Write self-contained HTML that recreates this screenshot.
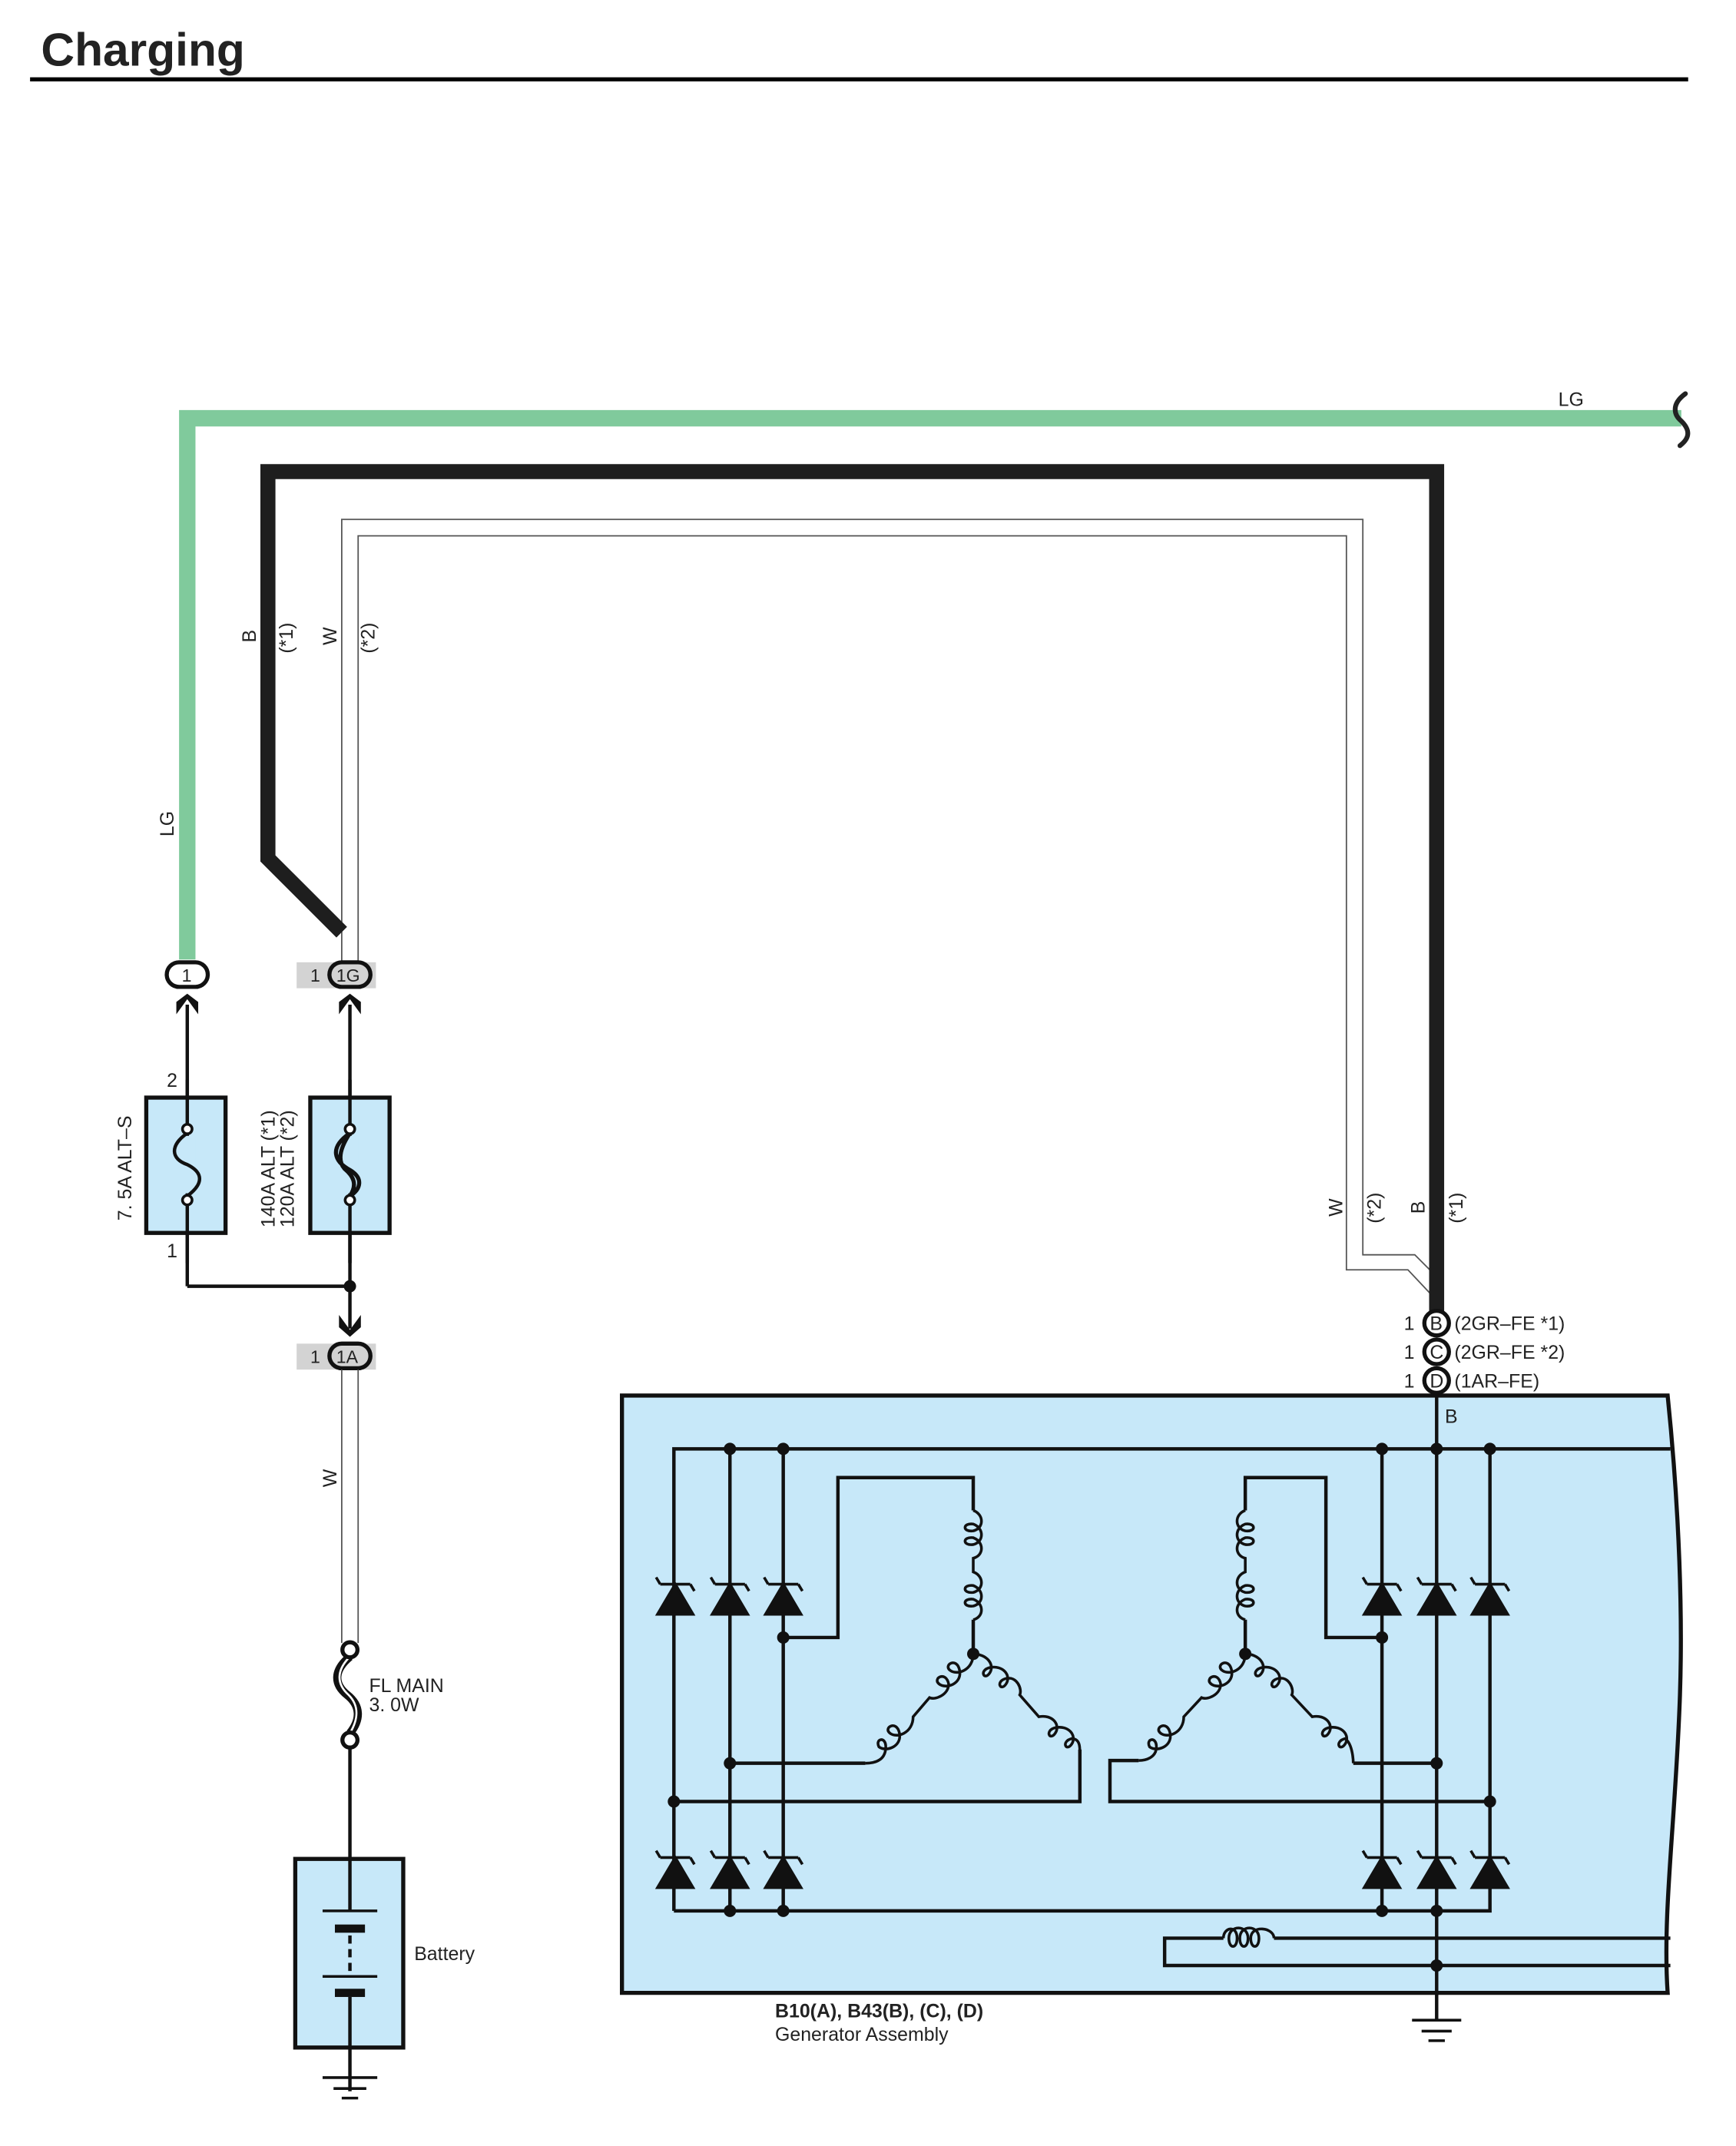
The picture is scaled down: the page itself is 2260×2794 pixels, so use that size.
<!DOCTYPE html>
<html><head><meta charset="utf-8"><style>
html,body{margin:0;padding:0;background:#fff;}
svg{display:block;}
text{font-family:"Liberation Sans",sans-serif;fill:#222;}
</style></head><body>
<svg width="2260" height="2794" viewBox="0 0 1270 1570" xmlns="http://www.w3.org/2000/svg">
<text x="30" y="48" font-size="34" font-weight="bold" fill="#000">Charging</text>
<line x1="22" y1="58" x2="1235" y2="58" stroke="#000" stroke-width="3"/>

<path d="M137,702 V306 H1230" fill="none" stroke="#80ca9c" stroke-width="12"/>
<path d="M1233,288 C1222,296 1225,304 1230,308 C1236,314 1237,320 1229,326" fill="none" stroke="#222" stroke-width="3.5" stroke-linecap="round"/>
<text x="1140" y="297" font-size="14">LG</text>
<text transform="translate(127,612) rotate(-90)" font-size="14">LG</text>

<path d="M250,703 V380 H997 V918 H1035 L1046,929" fill="none" stroke="#555" stroke-width="1"/>
<path d="M262,703 V392 H985 V929 H1030 L1046,946" fill="none" stroke="#555" stroke-width="1"/>
<path d="M250,682 L196,628 V345 H1051 V960" fill="none" stroke="#1e1e1e" stroke-width="11" stroke-linejoin="miter"/>

<text transform="translate(187,470) rotate(-90)" font-size="14">B</text>
<text transform="translate(214,478) rotate(-90)" font-size="14">(*1)</text>
<text transform="translate(246,472) rotate(-90)" font-size="14">W</text>
<text transform="translate(274,478) rotate(-90)" font-size="14">(*2)</text>
<text transform="translate(982,890) rotate(-90)" font-size="14">W</text>
<text transform="translate(1010,895) rotate(-90)" font-size="14">(*2)</text>
<text transform="translate(1042,888) rotate(-90)" font-size="14">B</text>
<text transform="translate(1070,895) rotate(-90)" font-size="14">(*1)</text>

<rect x="122" y="704" width="30" height="18" rx="9" fill="#fff" stroke="#111" stroke-width="3"/>
<text x="133" y="718" font-size="13">1</text>
<rect x="217" y="704" width="58" height="19" fill="#d3d3d3"/>
<rect x="241" y="704" width="30" height="18" rx="9" fill="#d3d3d3" stroke="#111" stroke-width="3"/>
<text x="227" y="718" font-size="13">1</text>
<text x="246" y="718" font-size="13">1G</text>
<polygon points="129,742 137,731 145,742 145,733 137,727 129,733" fill="#111"/>
<polygon points="248,742 256,731 264,742 264,733 256,727 248,733" fill="#111"/>

<line x1="137" y1="735" x2="137" y2="941" stroke="#111" stroke-width="2.5"/>
<line x1="256" y1="735" x2="256" y2="972" stroke="#111" stroke-width="2.5"/>
<line x1="137" y1="941" x2="256" y2="941" stroke="#111" stroke-width="2.5"/>
<circle cx="256" cy="941" r="4.5" fill="#111"/>
<rect x="107" y="803" width="58" height="99" fill="#c7e8f9" stroke="#111" stroke-width="3"/>
<rect x="227" y="803" width="58" height="99" fill="#c7e8f9" stroke="#111" stroke-width="3"/>
<line x1="137" y1="790" x2="137" y2="924" stroke="#111" stroke-width="2.5"/>
<line x1="256" y1="790" x2="256" y2="924" stroke="#111" stroke-width="2.5"/>
<rect x="131" y="831" width="12" height="42" fill="#c7e8f9"/>
<path d="M137,829 C124,838 125,848 137,852 C149,858 149,866 137,875" fill="none" stroke="#111" stroke-width="2.5"/>
<circle cx="137" cy="826" r="3.5" fill="#fff" stroke="#111" stroke-width="2"/>
<circle cx="137" cy="878" r="3.5" fill="#fff" stroke="#111" stroke-width="2"/>
<rect x="250" y="831" width="12" height="42" fill="#c7e8f9"/>
<path d="M256,829 C240,840 245,850 256,856 C266,862 264,870 256,875 C262,866 258,860 252,855 C246,848 250,838 256,829 Z" fill="none" stroke="#111" stroke-width="3"/>
<circle cx="256" cy="826" r="3.5" fill="#fff" stroke="#111" stroke-width="2"/>
<circle cx="256" cy="878" r="3.5" fill="#fff" stroke="#111" stroke-width="2"/>
<text x="122" y="795" font-size="14">2</text>
<text x="122" y="920" font-size="14">1</text>
<text transform="translate(96,893) rotate(-90)" font-size="14">7. 5A ALT–S</text>
<text transform="translate(201,898) rotate(-90)" font-size="14">140A ALT (*1)</text>
<text transform="translate(215,898) rotate(-90)" font-size="14">120A ALT (*2)</text>

<polygon points="248,962 256,973 264,962 264,971 256,978 248,971" fill="#111"/>
<rect x="217" y="983" width="58" height="19" fill="#d3d3d3"/>
<rect x="241" y="983" width="30" height="18" rx="9" fill="#d3d3d3" stroke="#111" stroke-width="3"/>
<text x="227" y="997" font-size="13">1</text>
<text x="246" y="997" font-size="13">1A</text>
<line x1="250" y1="1002" x2="250" y2="1202" stroke="#555" stroke-width="1"/>
<line x1="262" y1="1002" x2="262" y2="1202" stroke="#555" stroke-width="1"/>
<text transform="translate(246,1088) rotate(-90)" font-size="14">W</text>

<path d="M256,1212 C244,1222 244,1232 254,1240 C264,1248 264,1258 256,1268" fill="none" stroke="#111" stroke-width="6"/>
<path d="M256,1212 C246,1222 246,1232 255,1240 C263,1248 262,1258 256,1268" fill="none" stroke="#fff" stroke-width="1.5"/>
<circle cx="256" cy="1207" r="5.5" fill="#fff" stroke="#111" stroke-width="3"/>
<circle cx="256" cy="1273" r="5.5" fill="#fff" stroke="#111" stroke-width="3"/>
<text x="270" y="1238" font-size="14">FL MAIN</text>
<text x="270" y="1252" font-size="14">3. 0W</text>
<line x1="256" y1="1279" x2="256" y2="1530" stroke="#111" stroke-width="2.5"/>
<rect x="216" y="1360" width="79" height="138" fill="#c7e8f9" stroke="#111" stroke-width="3"/>
<line x1="256" y1="1360" x2="256" y2="1398" stroke="#111" stroke-width="2.5"/>
<line x1="236" y1="1398" x2="276" y2="1398" stroke="#111" stroke-width="2"/>
<rect x="245" y="1408" width="22" height="6" fill="#111"/>
<line x1="256" y1="1416" x2="256" y2="1446" stroke="#111" stroke-width="2.5" stroke-dasharray="6,4"/>
<line x1="236" y1="1446" x2="276" y2="1446" stroke="#111" stroke-width="2"/>
<rect x="245" y="1455" width="22" height="6" fill="#111"/>
<line x1="256" y1="1461" x2="256" y2="1498" stroke="#111" stroke-width="2.5"/>
<text x="303" y="1434" font-size="14">Battery</text>
<line x1="236" y1="1520" x2="276" y2="1520" stroke="#111" stroke-width="2"/>
<line x1="244" y1="1528" x2="268" y2="1528" stroke="#111" stroke-width="2"/>
<line x1="250" y1="1535" x2="262" y2="1535" stroke="#111" stroke-width="2"/>

<path d="M455,1021 H1220 C1224,1060 1232,1150 1229,1240 C1226,1330 1216,1400 1220,1458 H455 Z" fill="#c7e8f9" stroke="#111" stroke-width="3"/>
<g stroke="#111" stroke-width="3" fill="#fff">
<circle cx="1051" cy="968" r="9"/><circle cx="1051" cy="989" r="9"/><circle cx="1051" cy="1010" r="9"/>
</g>
<g font-size="14">
<text x="1046" y="973">B</text><text x="1046" y="994">C</text><text x="1046" y="1015">D</text>
<text x="1027" y="973">1</text><text x="1027" y="994">1</text><text x="1027" y="1015">1</text>
<text x="1064" y="973">(2GR–FE *1)</text>
<text x="1064" y="994">(2GR–FE *2)</text>
<text x="1064" y="1015">(1AR–FE)</text>
<text x="1057" y="1041">B</text>
</g>

<g stroke="#111" stroke-width="2.5" fill="none">
<line x1="1051" y1="1019" x2="1051" y2="1478"/>
<path d="M493,1398 V1060 H1222"/>
<line x1="534" y1="1060" x2="534" y2="1398"/>
<line x1="573" y1="1060" x2="573" y2="1398"/>
<line x1="1011" y1="1060" x2="1011" y2="1398"/>
<path d="M1090,1060 V1398 H493"/>
<path d="M573,1198 H613 V1081 H712 V1105"/>
<path d="M712,1185 V1210"/>
<path d="M534,1290 H633"/>
<path d="M790,1280 V1318 H493"/>
<path d="M1011,1198 H970 V1081 H911 V1105"/>
<path d="M911,1185 V1210"/>
<path d="M1051,1290 H990"/>
<path d="M833,1288 H812 V1318 H1090"/>
<path d="M1222,1418 H932"/>
<path d="M895,1418 H852 V1438 H1222"/>
</g>
<g stroke="#111" stroke-width="2" fill="none">
<path d="M712,1105 C720,1108 720,1118 712,1120 C704,1121 704,1114 712,1115 C720,1118 720,1128 712,1130 C704,1131 704,1124 712,1125 C720,1128 720,1138 712,1140 V1150 C720,1153 720,1163 712,1165 C704,1166 704,1159 712,1160 C720,1163 720,1173 712,1175 C704,1176 704,1169 712,1170 C720,1173 720,1183 712,1185"/>
<path d="M911,1105 C903,1108 903,1118 911,1120 C919,1121 919,1114 911,1115 C903,1118 903,1128 911,1130 C919,1131 919,1124 911,1125 C903,1128 903,1138 911,1140 V1150 C903,1153 903,1163 911,1165 C919,1166 919,1159 911,1160 C903,1163 903,1173 911,1175 C919,1176 919,1169 911,1170 C903,1173 903,1183 911,1185"/>
<path d="M712,1210 C712,1222 700,1226 695,1222 C690,1218 700,1212 702,1222 C704,1232 692,1236 687,1232 C682,1228 692,1222 694,1232 C694,1240 684,1244 680,1242 L668,1256 C668,1268 656,1272 651,1268 C646,1264 656,1258 658,1268 C660,1278 648,1282 643,1278 C640,1272 648,1270 648,1278 C648,1288 640,1290 633,1290"/>
<path d="M712,1210 C722,1210 728,1218 724,1224 C720,1230 716,1222 724,1220 C734,1218 740,1226 736,1232 C732,1238 728,1230 736,1228 C744,1226 748,1236 746,1240 L760,1256 C770,1254 776,1262 772,1268 C768,1274 764,1266 772,1264 C782,1262 788,1270 784,1276 C780,1282 776,1274 784,1272 C790,1272 790,1278 790,1282"/>
<path d="M911,1210 C911,1222 899,1226 894,1222 C889,1218 899,1212 901,1222 C903,1232 891,1236 886,1232 C881,1228 891,1222 893,1232 C893,1240 883,1244 879,1242 L866,1256 C866,1268 854,1272 849,1268 C844,1264 854,1258 856,1268 C858,1278 846,1282 841,1278 C838,1272 846,1270 846,1278 C846,1286 838,1288 833,1288"/>
<path d="M911,1210 C921,1210 927,1218 923,1224 C919,1230 915,1222 923,1220 C933,1218 939,1226 935,1232 C931,1238 927,1230 935,1228 C943,1226 947,1236 945,1240 L960,1256 C970,1254 976,1262 972,1268 C968,1274 964,1266 972,1264 C982,1262 988,1270 984,1276 C980,1282 976,1274 984,1272 C990,1276 990,1290 990,1290"/>
<path d="M895,1418 C895,1410 905,1408 905,1418 C905,1426 899,1426 899,1418 C899,1408 913,1408 913,1418 C913,1426 907,1426 907,1418 C907,1408 921,1408 921,1418 C921,1426 915,1426 915,1418 C915,1408 932,1410 932,1418"/>
</g>
<g fill="#111" stroke="#111" stroke-width="2">
<g id="d1">
<polygon points="481,1181 507,1181 494,1159"/>
<path d="M483,1159 H505 M483,1159 L480,1154 M505,1159 L508,1164" fill="none"/>
</g>
<use href="#d1" x="40"/><use href="#d1" x="79"/>
<use href="#d1" x="517"/><use href="#d1" x="557"/><use href="#d1" x="596"/>
<use href="#d1" y="200"/><use href="#d1" x="40" y="200"/><use href="#d1" x="79" y="200"/>
<use href="#d1" x="517" y="200"/><use href="#d1" x="557" y="200"/><use href="#d1" x="596" y="200"/>
</g>
<g fill="#111">
<circle cx="534" cy="1060" r="4.5"/><circle cx="573" cy="1060" r="4.5"/>
<circle cx="1011" cy="1060" r="4.5"/><circle cx="1051" cy="1060" r="4.5"/><circle cx="1090" cy="1060" r="4.5"/>
<circle cx="573" cy="1198" r="4.5"/><circle cx="1011" cy="1198" r="4.5"/>
<circle cx="712" cy="1210" r="4.5"/><circle cx="911" cy="1210" r="4.5"/>
<circle cx="534" cy="1290" r="4.5"/><circle cx="1051" cy="1290" r="4.5"/>
<circle cx="493" cy="1318" r="4.5"/><circle cx="1090" cy="1318" r="4.5"/>
<circle cx="534" cy="1398" r="4.5"/><circle cx="573" cy="1398" r="4.5"/>
<circle cx="1011" cy="1398" r="4.5"/><circle cx="1051" cy="1398" r="4.5"/>
<circle cx="1051" cy="1438" r="4.5"/>
</g>
<text x="567" y="1476" font-size="14" font-weight="bold">B10(A), B43(B), (C), (D)</text>
<text x="567" y="1493" font-size="14">Generator Assembly</text>
<g stroke="#111" stroke-width="2">
<line x1="1033" y1="1478" x2="1069" y2="1478"/>
<line x1="1040" y1="1486" x2="1062" y2="1486"/>
<line x1="1045" y1="1493" x2="1057" y2="1493"/>
</g>
</svg>
</body></html>
